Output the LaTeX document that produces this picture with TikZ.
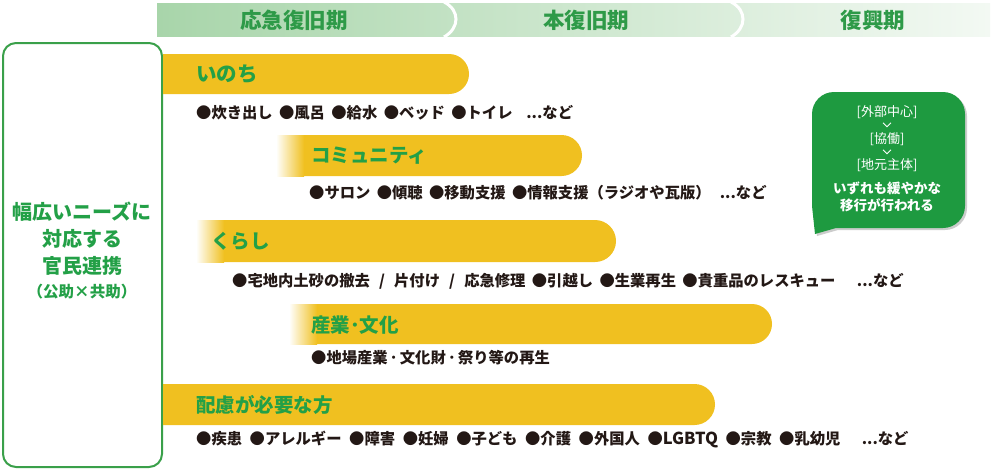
\documentclass[tikz,border=0pt]{standalone}
\usepackage{fontspec}
\setmainfont{Noto Sans CJK JP}
\usetikzlibrary{calc}
\definecolor{hdrgreen}{HTML}{2E9A48}
\definecolor{boxgreen}{HTML}{3AA04A}
\definecolor{labelgreen}{HTML}{23A047}
\definecolor{bargold}{HTML}{F0C020}
\definecolor{bubblegreen}{HTML}{1E9A40}
\definecolor{textblack}{HTML}{231815}
\definecolor{hdrleft}{HTML}{A8D5AA}
\definecolor{hdrright}{HTML}{F3F9F3}
\tikzset{
  hdr/.style={font=\fontsize{21.5}{24}\selectfont\bfseries, text=hdrgreen, inner sep=0pt},
  barlabel/.style={font=\fontsize{19.5}{23}\selectfont\bfseries, text=labelgreen, anchor=west, inner sep=0pt},
  items/.style={font=\fontsize{15.3}{18}\selectfont\bfseries, text=textblack, anchor=west, inner sep=0pt},
  bubtext/.style={font=\fontsize{13}{15}\selectfont, text=white, inner sep=0pt},
  bubbold/.style={font=\fontsize{13.5}{17}\selectfont\bfseries, text=white, inner sep=0pt, align=center},
  divider/.style={white, line width=3pt},
  chev/.style={white, line width=1pt},
}
\newcommand{\isp}{\hspace{0.42em}}
\newcommand{\wsp}{\hspace{0.5em}}
\newcommand{\ssp}{\hspace{0.6em}}
\newcommand{\dsp}{\hspace{0.15em}}
\newcommand{\goldbar}[5]{% x0, y0, x1, y1, fade?
  \fill[bargold] (#1,#2) -- ({#3-(#4-#2)/2},#2) arc[start angle=-90, end angle=90, radius={(#4-#2)/2}] -- (#1,#4) -- cycle;
  \ifnum#5=1
    \shade[left color=white, right color=bargold] (#1,#2) rectangle ({#1+28},#4);
  \fi
}
\begin{document}
\begin{tikzpicture}[x=1pt,y=-1pt]
\useasboundingbox (0,0) rectangle (992,471);
\fill[white] (0,0) rectangle (992,471);

% header band
\shade[left color=hdrleft, right color=hdrright] (157,3) rectangle (990,36);
\draw[divider] (444,2) .. controls (460,10) and (460,28) .. (444,37);
\draw[divider] (731,2) .. controls (747,10) and (747,28) .. (731,37);
\node[hdr] (h1) at (294,20) {応急復旧期};
\node[hdr] (h2) at (586,20) {本復旧期};
\node[hdr] (h3) at (873,20) {復興期};

% left box
\draw[boxgreen, line width=2pt, rounded corners=13pt] (3,43) rectangle (162,467);
\node[align=center, text=labelgreen, inner sep=0pt, font=\fontsize{20}{27}\selectfont\bfseries] (lefttext) at (82,251)
  {幅広いニーズに\\対応する\\官民連携\\[-3pt]{\fontsize{15.5}{17}\selectfont （公助×共助）}};

% bars
\goldbar{163}{54}{469}{94}{0}
\goldbar{276}{135}{582}{176}{1}
\goldbar{196}{220}{616}{262}{1}
\goldbar{289}{304}{772}{344}{1}
\goldbar{163}{384}{715}{425}{0}

\node[barlabel] (l1) at (196,74) {\fontsize{20.5}{23}\selectfont いのち};
\node[barlabel] (l2) at (311,156) {コミュニティ};
\node[barlabel] (l3) at (211,241) {くらし};
\node[barlabel] (l4) at (311,325) {産業･文化};
\node[barlabel] (l5) at (196,405) {配慮が必要な方};

\node[items] (i1) at (196,113) {●炊き出し\isp{}●風呂\isp{}●給水\isp{}●ベッド\isp{}●トイレ\hspace{0.9em}...など};
\node[items] (i2) at (309,193) {●サロン\isp{}●傾聴\isp{}●移動支援\isp{}●情報支援（ラジオや瓦版）\hspace{0.6em}...など};
\node[items] (i3) at (232,281) {●宅地内土砂の撤去\ssp{}/\ssp{}片付け\ssp{}/\ssp{}応急修理\isp{}●引越し\isp{}●生業再生\isp{}●貴重品のレスキュー\hspace{1.4em}...など};
\node[items] (i4) at (311,358) {●地場産業\dsp{}･\dsp{}文化財\dsp{}･\dsp{}祭り等の再生};
\node[items] (i5) at (196,440) {●疾患\wsp{}●アレルギー\wsp{}●障害\wsp{}●妊婦\wsp{}●子ども\wsp{}●介護\wsp{}●外国人\wsp{}●{\fontsize{16.5}{18}\selectfont LGBTQ}\wsp{}●宗教\wsp{}●乳幼児\hspace{1.4em}...など};

% speech bubble
\fill[black!20] (836,94) -- (945,94) arc[start angle=-90, end angle=0, radius=22] -- (967,208)
  arc[start angle=0, end angle=90, radius=22] -- (838,230) -- (817,236) -- (814,208) -- (814,116)
  arc[start angle=180, end angle=270, radius=22] -- cycle;
\fill[bubblegreen] (834,92) -- (943,92) arc[start angle=-90, end angle=0, radius=22] -- (965,206)
  arc[start angle=0, end angle=90, radius=22] -- (836,228) -- (815,234) -- (812,206) -- (812,114)
  arc[start angle=180, end angle=270, radius=22] -- cycle;
\node[bubtext] (b1) at (887,112) {[外部中心]};
\node[bubtext] (b2) at (887,139) {[協働]};
\node[bubtext] (b3) at (887,165) {[地元主体]};
\node[bubbold] (b4) at (887,197) {いずれも緩やかな\\移行が行われる};
\draw[chev] ($(b1.south)+(-4,4)$) -- ($(b1.south)+(0,8)$) -- ($(b1.south)+(4,4)$);
\draw[chev] ($(b2.south)+(-4,4)$) -- ($(b2.south)+(0,8)$) -- ($(b2.south)+(4,4)$);
\end{tikzpicture}
\end{document}
